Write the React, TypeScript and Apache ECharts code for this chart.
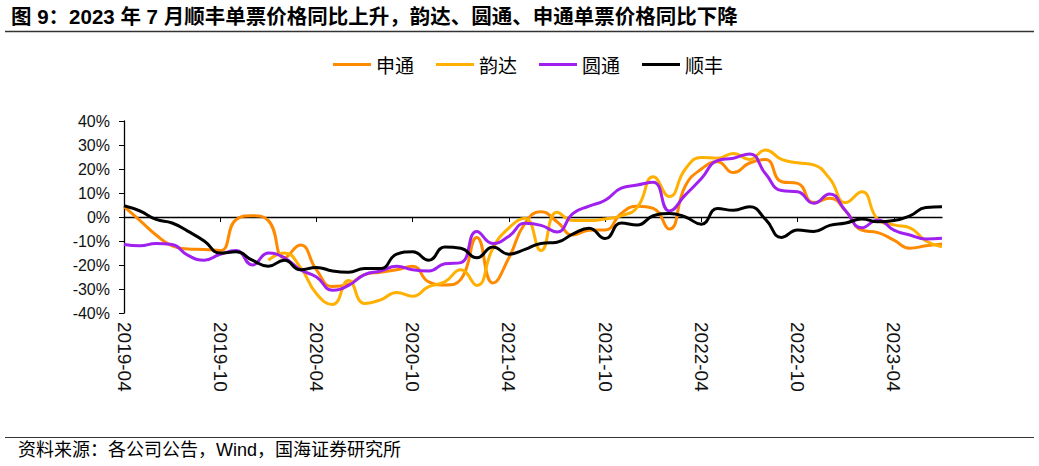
import React, { useEffect, useRef } from "react";
import * as echarts from "echarts";

const categories = [
  "2019-04","2019-05","2019-06","2019-07","2019-08","2019-09","2019-10","2019-11","2019-12",
  "2020-01","2020-02","2020-03","2020-04","2020-05","2020-06","2020-07","2020-08","2020-09","2020-10","2020-11","2020-12",
  "2021-01","2021-02","2021-03","2021-04","2021-05","2021-06","2021-07","2021-08","2021-09","2021-10","2021-11","2021-12",
  "2022-01","2022-02","2022-03","2022-04","2022-05","2022-06","2022-07","2022-08","2022-09","2022-10","2022-11","2022-12",
  "2023-01","2023-02","2023-03","2023-04","2023-05","2023-06","2023-07",
];

const shentong = [
  4.3, -1.5, -7.5, -12, -13.3, -13.5, -14, -1, 0.5,
  -1.5, -17, -11.7, -22, -29, -28, -24, -23, -22, -20.5, -27, -28.3,
  -26, -8.5, -27.5, -17, -2.6, 2.2, -2, -7.5, -5.5, -5.4, 1.5, 4.5,
  3.6, -5, 13, 20, 23, 18.5, 22.5, 24, 14.7, 14, 6, 7.8,
  2.5, -5.5, -6.5, -9.6, -13, -12, -11.2,
];

const yunda = [
  null, null, null, null, null, null, null, null, null,
  -18, -15, -21, -32, -36.5, -26.5, -36, -34.5, -31.5, -33, -29, -27,
  -22, -28.5, -13, -4.5, -0.5, -14, 2, -1.5, -1.5, -0.8, 0.5, 4,
  16.8, 8.5, 20, 24.8, 24.5, 26.5, 24, 27.9, 24, 22.6, 21.7, 16,
  6, 10.5, -1, -3.3, -4.5, -10, -12.4,
];

const yuantong = [
  -11.5, -12, -11, -11.5, -16, -18, -15.5, -14, -20,
  -15, -17, -22, -25, -30.5, -28.5, -24, -22.5, -20.5, -22, -22.5, -19.5,
  -19, -6, -11, -8, -2.6, -3.5, -6.2, 1.5, 4.5, 7, 12, 13.3,
  14.5, 2.5, 9.2, 16, 23.5, 24.5, 26.3, 18, 11, 10.5, 5.7, 9.6,
  2.5, -4.5, -1.2, -5.5, -7.5, -9.2, -8.9,
];

const shunfeng = [
  4.7, 2.5, -1, -2.5, -6, -10, -15, -14.5, -18,
  -20.5, -18, -22, -21, -22.5, -23, -21.5, -21.5, -15.5, -14.5, -18, -12.5,
  -13, -17, -12.5, -15.5, -13.5, -11, -10.5, -7, -4.7, -9, -2.5, -3.3,
  0.5, 1.5, 0, -3, 3.5, 2.8, 4.3, -1, -8.5, -5.4, -6, -3.5,
  -2.5, -0.8, -2, -1.5, 0.5, 4, 4.3,
];

const seriesNames = ["申通", "韵达", "圆通", "顺丰"];
const seriesColors = ["#FF8A00", "#FFB000", "#A020F0", "#000000"];
const seriesData = [shentong, yunda, yuantong, shunfeng];

const titleText = "图 9：2023 年 7 月顺丰单票价格同比上升，韵达、圆通、申通单票价格同比下降";
const sourceText = "资料来源：各公司公告，Wind，国海证券研究所";

const LATIN = "'Liberation Sans', Arial, 'Noto Sans CJK SC', sans-serif";

export default function App() {
  const ref = useRef<HTMLDivElement>(null);
  useEffect(() => {
    if (!ref.current) return;
    const chart = echarts.init(ref.current, null, { renderer: "svg" });
    chart.setOption({
      animation: false,
      backgroundColor: "#ffffff",
      legend: {
        data: seriesNames,
        left: 328,
        top: 50,
        icon: "rect",
        itemWidth: 38,
        itemHeight: 3,
        itemGap: 22,
        textStyle: { fontSize: 19, color: "#000", fontFamily: "'Noto Sans CJK SC', sans-serif" },
      },
      grid: { left: 124, right: 97, top: 121, bottom: 153, containLabel: false },
      xAxis: [
        {
          type: "category",
          data: categories,
          boundaryGap: false,
          position: "bottom",
          axisLine: { show: true, onZero: true, lineStyle: { color: "#000", width: 1.3 } },
          axisTick: { show: true, interval: 5, length: 5, lineStyle: { color: "#000" } },
          axisLabel: { show: false },
          splitLine: { show: false },
        },
        {
          type: "category",
          data: categories,
          boundaryGap: false,
          position: "bottom",
          axisLine: { show: false, onZero: false },
          axisTick: { show: false },
          axisLabel: {
            show: true,
            interval: 5,
            rotate: -90,
            margin: 9,
            fontSize: 19,
            color: "#111",
            fontFamily: LATIN,
          },
          splitLine: { show: false },
        },
      ],
      yAxis: {
        type: "value",
        min: -40,
        max: 40,
        interval: 10,
        axisLine: { show: true, lineStyle: { color: "#000", width: 1.3 } },
        axisTick: { show: true, length: 5, lineStyle: { color: "#000" } },
        axisLabel: {
          formatter: "{value}%",
          fontSize: 16,
          margin: 14,
          color: "#111",
          fontFamily: LATIN,
        },
        splitLine: { show: false },
      },
      series: seriesNames.map((name, i) => ({
        name,
        type: "line",
        xAxisIndex: 0,
        data: seriesData[i],
        smooth: 0.5,
        showSymbol: false,
        symbol: "none",
        connectNulls: false,
        lineStyle: { color: seriesColors[i], width: 3 },
        itemStyle: { color: seriesColors[i] },
      })),
      graphic: [
        {
          type: "text",
          left: 11,
          top: 6,
          style: {
            text: titleText,
            fontSize: 20.5,
            fontWeight: "bold",
            fill: "#000",
            fontFamily: "'Liberation Sans', 'Noto Sans CJK SC', sans-serif",
          },
        },
        {
          type: "line",
          shape: { x1: 5, y1: 31.5, x2: 1034, y2: 31.5 },
          style: { stroke: "#333", lineWidth: 1.5 },
        },
        {
          type: "line",
          shape: { x1: 5, y1: 437.5, x2: 1034, y2: 437.5 },
          style: { stroke: "#333", lineWidth: 1.2 },
        },
        {
          type: "text",
          left: 18,
          top: 441,
          style: {
            text: sourceText,
            fontSize: 18,
            fill: "#000",
            fontFamily: "'Liberation Sans', 'Noto Sans CJK SC', sans-serif",
          },
        },
      ],
    });
    return () => chart.dispose();
  }, []);
  return (
    <div
      ref={ref}
      style={{ position: "fixed", left: 0, top: 0, width: 1039, height: 466 }}
    />
  );
}
